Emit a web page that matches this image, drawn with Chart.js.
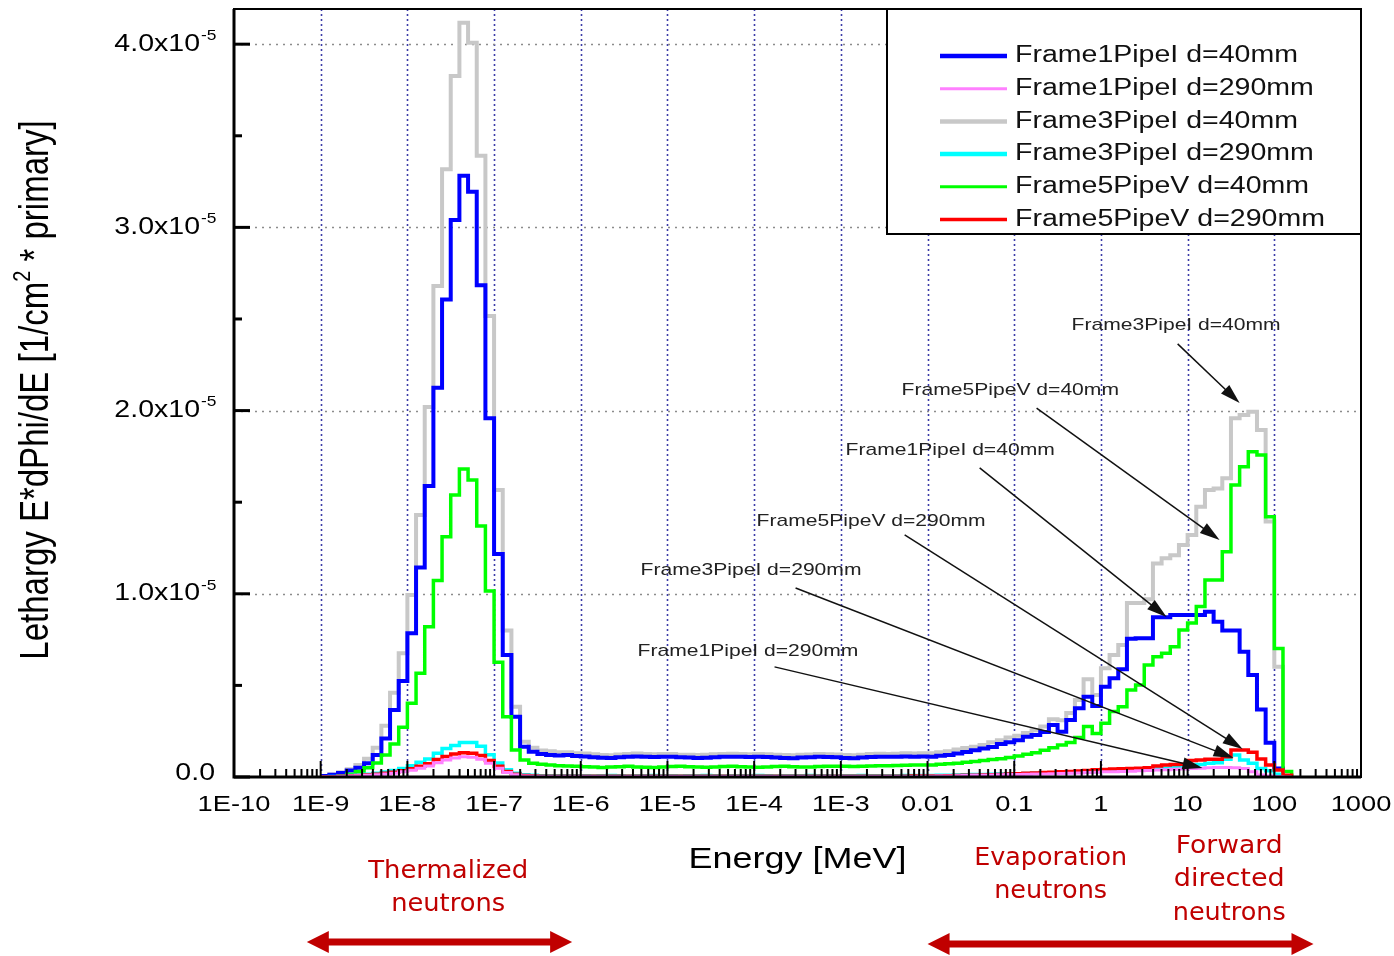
<!DOCTYPE html>
<html>
<head>
<meta charset="utf-8">
<script src="https://cdn.jsdelivr.net/npm/chart.js@4.4.1/dist/chart.umd.min.js"></script>
<style>
  html, body { margin: 0; padding: 0; background: #fff; }
</style>
</head>
<body>
<canvas id="fluxChart" width="1394" height="956"></canvas>
<script>
// energy axis (MeV), decades
const decadeValues = [1e-10, 1e-9, 1e-8, 1e-7, 1e-6, 1e-5, 1e-4, 1e-3, 0.01, 0.1, 1, 10, 100, 1000];
const decadeLabels = ['1E-10', '1E-9', '1E-8', '1E-7', '1E-6', '1E-5', '1E-4', '1E-3', '0.01', '0.1', '1', '10', '100', '1000'];

// histogram bins: 10 per decade, first edge at 1E-9 MeV
const binsPerDecade = 10;
const firstEdgeLog = -9;

// y values in units of 1e-5
const yTicks = [0, 1, 2, 3, 4];
const yTickLabels = ['0.0', '1.0x10', '2.0x10', '3.0x10', '4.0x10'];
const yTickExp = ['', '-5', '-5', '-5', '-5'];

const seriesNames = [
  'Frame1PipeI d=40mm', 'Frame1PipeI d=290mm', 'Frame3PipeI d=40mm',
  'Frame3PipeI d=290mm', 'Frame5PipeV d=40mm', 'Frame5PipeV d=290mm'
];

// one row per decade (1E-9 .. 100), last row: 100..160 MeV
const frame1PipeI_40 = [
  0.005, 0.012, 0.022, 0.035, 0.05, 0.075, 0.12, 0.21, 0.366, 0.524,
  0.784, 1.143, 1.588, 2.125, 2.607, 3.04, 3.282, 3.195, 2.684, 1.958,
  1.217, 0.666, 0.329, 0.165, 0.138, 0.125, 0.12, 0.118, 0.12, 0.115,
  0.112, 0.108, 0.105, 0.104, 0.108, 0.110, 0.112, 0.110, 0.109, 0.111,
  0.110, 0.108, 0.106, 0.104, 0.105, 0.108, 0.110, 0.111, 0.110, 0.109,
  0.111, 0.109, 0.107, 0.104, 0.103, 0.106, 0.108, 0.110, 0.109, 0.108,
  0.104, 0.102, 0.106, 0.109, 0.111, 0.110, 0.111, 0.112, 0.111, 0.112,
  0.111, 0.116, 0.12, 0.128, 0.137, 0.146, 0.155, 0.164, 0.18, 0.19,
  0.20, 0.22, 0.229, 0.246, 0.284, 0.247, 0.311, 0.375, 0.438, 0.388,
  0.493, 0.539, 0.588, 0.755, 0.757, 0.757, 0.872, 0.872, 0.884, 0.884,
  0.884, 0.884, 0.902, 0.848, 0.799, 0.799, 0.684, 0.557, 0.369, 0.187,
  0.047, 0
];
const frame1PipeI_290 = [
  0.001, 0.002, 0.003, 0.005, 0.007, 0.009, 0.012, 0.016, 0.021, 0.028,
  0.037, 0.048, 0.06, 0.078, 0.093, 0.104, 0.11, 0.108, 0.097, 0.075,
  0.048, 0.025, 0.012, 0.006, 0.004, 0.003, 0.003, 0.003, 0.003, 0.003,
  0.003, 0.003, 0.003, 0.003, 0.003, 0.003, 0.003, 0.003, 0.003, 0.003,
  0.003, 0.003, 0.003, 0.003, 0.003, 0.003, 0.003, 0.003, 0.003, 0.003,
  0.003, 0.003, 0.003, 0.003, 0.003, 0.003, 0.003, 0.003, 0.003, 0.003,
  0.003, 0.003, 0.003, 0.003, 0.003, 0.003, 0.003, 0.003, 0.003, 0.004,
  0.004, 0.005, 0.006, 0.007, 0.008, 0.009, 0.01, 0.011, 0.012, 0.013,
  0.014, 0.015, 0.016, 0.017, 0.018, 0.019, 0.02, 0.022, 0.024, 0.026,
  0.028, 0.029, 0.03, 0.032, 0.034, 0.036, 0.038, 0.04, 0.042, 0.044,
  0.046, 0.048, 0.05, 0.052, 0.052, 0.05, 0.047, 0.029, 0.011, 0.005,
  0.002, 0
];
const frame3PipeI_40 = [
  0.006, 0.014, 0.026, 0.042, 0.065, 0.1, 0.16, 0.28, 0.46, 0.675,
  0.993, 1.43, 2.02, 2.68, 3.317, 3.826, 4.117, 4.008, 3.391, 2.516,
  1.567, 0.80, 0.384, 0.193, 0.16, 0.145, 0.14, 0.135, 0.135, 0.13,
  0.128, 0.124, 0.12, 0.119, 0.123, 0.126, 0.128, 0.126, 0.124, 0.126,
  0.125, 0.122, 0.121, 0.12, 0.121, 0.124, 0.126, 0.127, 0.125, 0.124,
  0.126, 0.124, 0.122, 0.12, 0.119, 0.121, 0.123, 0.125, 0.124, 0.123,
  0.12, 0.119, 0.122, 0.125, 0.127, 0.126, 0.127, 0.129, 0.128, 0.13,
  0.13, 0.135, 0.14, 0.15, 0.158, 0.165, 0.175, 0.19, 0.20, 0.215,
  0.225, 0.24, 0.255, 0.275, 0.315, 0.31, 0.35, 0.42, 0.533, 0.448,
  0.593, 0.666, 0.72, 0.95, 0.95, 0.97, 1.166, 1.194, 1.21, 1.266,
  1.321, 1.475, 1.567, 1.575, 1.63, 1.958, 1.976, 1.994, 1.894, 1.394,
  0.602, 0
];
const frame3PipeI_290 = [
  0.002, 0.003, 0.005, 0.008, 0.011, 0.015, 0.02, 0.027, 0.036, 0.047,
  0.062, 0.08, 0.098, 0.13, 0.155, 0.172, 0.188, 0.188, 0.168, 0.122,
  0.077, 0.04, 0.02, 0.012, 0.009, 0.007, 0.007, 0.007, 0.007, 0.007,
  0.007, 0.006, 0.007, 0.008, 0.007, 0.006, 0.007, 0.007, 0.008, 0.007,
  0.007, 0.006, 0.007, 0.007, 0.008, 0.007, 0.006, 0.007, 0.007, 0.007,
  0.008, 0.007, 0.006, 0.007, 0.007, 0.007, 0.008, 0.007, 0.007, 0.006,
  0.007, 0.007, 0.008, 0.007, 0.007, 0.007, 0.007, 0.008, 0.008, 0.008,
  0.008, 0.009, 0.01, 0.011, 0.012, 0.013, 0.014, 0.015, 0.016, 0.017,
  0.018, 0.019, 0.02, 0.021, 0.022, 0.023, 0.025, 0.027, 0.029, 0.03,
  0.032, 0.034, 0.036, 0.038, 0.04, 0.042, 0.045, 0.048, 0.05, 0.055,
  0.06, 0.068, 0.075, 0.078, 0.097, 0.12, 0.093, 0.075, 0.047, 0.034,
  0.015, 0.005
];
const frame5PipeV_40 = [
  0, 0, 0.005, 0.015, 0.03, 0.05, 0.076, 0.12, 0.18, 0.271,
  0.402, 0.566, 0.82, 1.072, 1.312, 1.539, 1.681, 1.621, 1.37, 1.015,
  0.626, 0.329, 0.147, 0.093, 0.075, 0.07, 0.065, 0.062, 0.06, 0.058,
  0.056, 0.055, 0.052, 0.054, 0.056, 0.058, 0.055, 0.053, 0.052, 0.055,
  0.057, 0.058, 0.056, 0.054, 0.053, 0.055, 0.057, 0.058, 0.056, 0.054,
  0.053, 0.055, 0.057, 0.058, 0.056, 0.054, 0.055, 0.057, 0.058, 0.059,
  0.058, 0.057, 0.058, 0.060, 0.061, 0.062, 0.063, 0.064, 0.065, 0.066,
  0.066, 0.07, 0.072, 0.075, 0.08, 0.084, 0.09, 0.095, 0.10, 0.106,
  0.115, 0.124, 0.133, 0.146, 0.16, 0.175, 0.188, 0.215, 0.275, 0.238,
  0.293, 0.357, 0.384, 0.475, 0.502, 0.611, 0.657, 0.675, 0.711, 0.802,
  0.84, 0.93, 1.075, 1.075, 1.23, 1.594, 1.694, 1.776, 1.758, 1.421,
  0.702, 0.03
];
const frame5PipeV_290 = [
  0.001, 0.002, 0.004, 0.006, 0.008, 0.011, 0.015, 0.02, 0.026, 0.034,
  0.045, 0.058, 0.072, 0.095, 0.112, 0.125, 0.133, 0.13, 0.118, 0.09,
  0.058, 0.03, 0.015, 0.008, 0.005, 0.004, 0.004, 0.004, 0.004, 0.004,
  0.004, 0.004, 0.004, 0.004, 0.004, 0.004, 0.004, 0.004, 0.004, 0.004,
  0.004, 0.004, 0.004, 0.004, 0.004, 0.004, 0.004, 0.004, 0.004, 0.004,
  0.004, 0.004, 0.004, 0.004, 0.004, 0.004, 0.004, 0.004, 0.004, 0.004,
  0.004, 0.004, 0.004, 0.004, 0.004, 0.004, 0.004, 0.004, 0.005, 0.005,
  0.005, 0.006, 0.007, 0.008, 0.009, 0.01, 0.011, 0.012, 0.014, 0.016,
  0.018, 0.02, 0.022, 0.024, 0.026, 0.028, 0.03, 0.033, 0.036, 0.039,
  0.041, 0.043, 0.045, 0.047, 0.048, 0.05, 0.06, 0.065, 0.068, 0.07,
  0.09, 0.093, 0.097, 0.097, 0.111, 0.147, 0.147, 0.135, 0.098, 0.065,
  0.038, 0.01
];

const seriesValues = [frame1PipeI_40, frame1PipeI_290, frame3PipeI_40, frame3PipeI_290, frame5PipeV_40, frame5PipeV_290];
const seriesColors = ['#0000ff', '#ff80ff', '#c8c8c8', '#00ffff', '#00ff00', '#ff0000'];
const seriesWidths = [4, 3, 4, 3.5, 3.5, 3.5];
const legendWidths = [4.5, 3, 4.5, 4.5, 3, 3.5];
const drawOrder = [5, 1, 6, 3, 4, 2];

// arrow annotations, positions as [log10(E/MeV), value]
const notes = [
  { text: 'Frame3PipeI d=40mm',  at: [-0.339, 2.467], from: [0.885, 2.364],  to: [1.600, 2.041] },
  { text: 'Frame5PipeV d=40mm',  at: [-2.299, 2.112], from: [-0.742, 2.014], to: [1.369, 1.294] },
  { text: 'Frame1PipeI d=40mm',  at: [-2.945, 1.785], from: [-1.399, 1.687], to: [0.758, 0.873] },
  { text: 'Frame5PipeV d=290mm', at: [-3.972, 1.397], from: [-2.264, 1.321], to: [1.634, 0.153] },
  { text: 'Frame3PipeI d=290mm', at: [-5.310, 1.130], from: [-3.522, 1.032], to: [1.530, 0.104] },
  { text: 'Frame1PipeI d=290mm', at: [-5.345, 0.688], from: [-3.765, 0.601], to: [1.172, 0.049] }
];

// energy regions under the axis
const regions = [
  { lines: ['Thermalized', 'neutrons'], widths: [160, 114], center: -7.53, top: 871, arrow: [-9.16, -6.10], arrowY: 942 },
  { lines: ['Evaporation', 'neutrons'], widths: [153, 113], center: -0.58, top: 858, arrow: null },
  { lines: ['Forward', 'directed', 'neutrons'], widths: [107, 111, 113], center: 1.48, top: 846, arrow: [-2.0, 2.452], arrowY: 944 }
];

const SX = 1.24;
const FONT = '"Liberation Sans", Arial, sans-serif';

function binEdge(i) {
  return Math.pow(10, firstEdgeLog + i / binsPerDecade);
}

const datasets = seriesValues.map((vals, k) => {
  const pts = vals.map((v, i) => ({ x: binEdge(i), y: v }));
  pts.push({ x: binEdge(vals.length), y: 0 });
  return {
    label: seriesNames[k],
    data: pts,
    borderColor: seriesColors[k],
    borderWidth: seriesWidths[k],
    stepped: true,
    pointRadius: 0,
    fill: false,
    order: drawOrder[k]
  };
});

function text(ctx, s, x, y, font, align, color, sx) {
  sx = sx || SX;
  ctx.save();
  ctx.font = font;
  ctx.fillStyle = color || '#000';
  ctx.textBaseline = 'middle';
  ctx.textAlign = 'left';
  const w = ctx.measureText(s).width * sx;
  const x0 = align === 'center' ? x - w / 2 : align === 'right' ? x - w : x;
  ctx.translate(x0, y);
  ctx.scale(sx, 1);
  ctx.fillText(s, 0, 0);
  ctx.restore();
  return w;
}

function arrow(ctx, x1, y1, x2, y2) {
  const a = Math.atan2(y2 - y1, x2 - x1);
  const len = 20, hw = 6;
  ctx.save();
  ctx.strokeStyle = '#111';
  ctx.fillStyle = '#111';
  ctx.lineWidth = 1.5;
  ctx.beginPath();
  ctx.moveTo(x1, y1);
  ctx.lineTo(x2 - Math.cos(a) * len * 0.8, y2 - Math.sin(a) * len * 0.8);
  ctx.stroke();
  ctx.beginPath();
  ctx.moveTo(x2, y2);
  ctx.lineTo(x2 - Math.cos(a) * len - Math.sin(a) * hw, y2 - Math.sin(a) * len + Math.cos(a) * hw);
  ctx.lineTo(x2 - Math.cos(a) * len + Math.sin(a) * hw, y2 - Math.sin(a) * len - Math.cos(a) * hw);
  ctx.closePath();
  ctx.fill();
  ctx.restore();
}

function doubleArrow(ctx, xa, xb, y) {
  const head = 22, hh = 11, th = 7;
  ctx.save();
  ctx.fillStyle = '#c00000';
  ctx.fillRect(xa + head - 2, y - th / 2, xb - xa - 2 * head + 4, th);
  ctx.beginPath();
  ctx.moveTo(xa, y);
  ctx.lineTo(xa + head, y - hh);
  ctx.lineTo(xa + head, y + hh);
  ctx.closePath();
  ctx.fill();
  ctx.beginPath();
  ctx.moveTo(xb, y);
  ctx.lineTo(xb - head, y - hh);
  ctx.lineTo(xb - head, y + hh);
  ctx.closePath();
  ctx.fill();
  ctx.restore();
}

const gridPlugin = {
  id: 'gridPlugin',
  beforeDatasetsDraw(chart) {
    const { ctx, chartArea: a, scales: { x, y } } = chart;
    ctx.save();
    ctx.lineWidth = 1.6;
    ctx.strokeStyle = '#3c3ca8';
    ctx.setLineDash([2, 3]);
    decadeValues.slice(1, -1).forEach(v => {
      const px = Math.round(x.getPixelForValue(v)) + 0.5;
      ctx.beginPath();
      ctx.moveTo(px, a.top);
      ctx.lineTo(px, a.bottom);
      ctx.stroke();
    });
    ctx.strokeStyle = '#8c8c8c';
    ctx.setLineDash([2, 5]);
    yTicks.slice(1).forEach(v => {
      const py = Math.round(y.getPixelForValue(v)) + 0.5;
      ctx.beginPath();
      ctx.moveTo(a.left, py);
      ctx.lineTo(a.right, py);
      ctx.stroke();
    });
    ctx.restore();
  }
};

const decorPlugin = {
  id: 'decorPlugin',
  afterDraw(chart) {
    const { ctx, chartArea: a, scales: { x, y } } = chart;
    ctx.save();

    // frame
    ctx.strokeStyle = '#000';
    ctx.lineWidth = 2;
    ctx.strokeRect(a.left, a.top, a.right - a.left, a.bottom - a.top);
    ctx.lineWidth = 3;
    ctx.beginPath();
    ctx.moveTo(a.left, a.top);
    ctx.lineTo(a.left, a.bottom);
    ctx.lineTo(a.right, a.bottom);
    ctx.stroke();

    // y ticks
    yTicks.forEach((v, i) => {
      const py = y.getPixelForValue(v);
      ctx.lineWidth = 3;
      ctx.beginPath();
      ctx.moveTo(a.left, py);
      ctx.lineTo(a.left + 16, py);
      ctx.stroke();
      const mv = v + 0.5;
      if (mv < y.max) {
        const pm = y.getPixelForValue(mv);
        ctx.beginPath();
        ctx.moveTo(a.left, pm);
        ctx.lineTo(a.left + 8, pm);
        ctx.stroke();
      }
      if (yTickExp[i]) {
        text(ctx, yTickLabels[i], 200, py, '23px ' + FONT, 'right');
        text(ctx, yTickExp[i], 201, py - 8, '14px ' + FONT, 'left');
      } else {
        text(ctx, yTickLabels[i], 215, py - 3, '23px ' + FONT, 'right');
      }
    });

    // x ticks
    ctx.lineWidth = 2;
    decadeValues.forEach((v, i) => {
      const px = x.getPixelForValue(v);
      ctx.beginPath();
      ctx.moveTo(px, a.bottom);
      ctx.lineTo(px, a.bottom - 16);
      ctx.stroke();
      if (i < decadeValues.length - 1) {
        for (let m = 2; m <= 9; m++) {
          const pm = x.getPixelForValue(v * m);
          ctx.beginPath();
          ctx.moveTo(pm, a.bottom);
          ctx.lineTo(pm, a.bottom - 8);
          ctx.stroke();
        }
      }
      text(ctx, decadeLabels[i], px, 805, '22px ' + FONT, 'center');
    });

    // axis titles
    text(ctx, 'Energy [MeV]', (a.left + a.right) / 2 + 0, 860, '29px ' + FONT, 'center');

    ctx.save();
    ctx.translate(37, 390);
    ctx.scale(SX, 1);
    ctx.rotate(-Math.PI / 2);
    ctx.fillStyle = '#000';
    ctx.textBaseline = 'middle';
    ctx.font = '33px ' + FONT;
    const pa = 'Lethargy E*dPhi/dE [1/cm', pb = ' * primary]';
    const wa = ctx.measureText(pa).width, wb = ctx.measureText(pb).width;
    ctx.font = '20px ' + FONT;
    const ws = ctx.measureText('2').width;
    const start = -(wa + ws + wb) / 2;
    ctx.font = '33px ' + FONT;
    ctx.fillText(pa, start, 0);
    ctx.fillText(pb, start + wa + ws, 0);
    ctx.font = '20px ' + FONT;
    ctx.fillText('2', start + wa, -11);
    ctx.restore();

    // legend
    const lw = 474, lh = 225;
    const lx = a.right - lw, ly = a.top;
    ctx.fillStyle = '#fff';
    ctx.fillRect(lx, ly, lw, lh);
    ctx.lineWidth = 2;
    ctx.strokeStyle = '#000';
    ctx.strokeRect(lx, ly, lw, lh);
    seriesNames.forEach((name, k) => {
      const ry = ly + 47 + k * 32.7;
      ctx.strokeStyle = seriesColors[k];
      ctx.lineWidth = legendWidths[k];
      ctx.beginPath();
      ctx.moveTo(lx + 53, ry);
      ctx.lineTo(lx + 120, ry);
      ctx.stroke();
      text(ctx, name, lx + 128, ry, '23px ' + FONT, 'left', '#111');
    });

    // annotations
    notes.forEach(n => {
      const tx = x.getPixelForValue(Math.pow(10, n.at[0]));
      const ty = y.getPixelForValue(n.at[1]);
      text(ctx, n.text, tx, ty, '17px ' + FONT, 'left', '#222');
      arrow(ctx,
        x.getPixelForValue(Math.pow(10, n.from[0])), y.getPixelForValue(n.from[1]),
        x.getPixelForValue(Math.pow(10, n.to[0])), y.getPixelForValue(n.to[1]));
    });

    // energy regions
    regions.forEach(r => {
      const cx = x.getPixelForValue(Math.pow(10, r.center));
      r.lines.forEach((s, i) => {
        ctx.font = '25px "DejaVu Sans", sans-serif';
        const sx = r.widths[i] / ctx.measureText(s).width;
        text(ctx, s, cx, r.top + i * 33.5, '25px "DejaVu Sans", sans-serif', 'center', '#c00000', sx);
      });
      if (r.arrow) {
        doubleArrow(ctx,
          x.getPixelForValue(Math.pow(10, r.arrow[0])),
          x.getPixelForValue(Math.pow(10, r.arrow[1])), r.arrowY);
      }
    });

    ctx.restore();
  }
};

const ctx = document.getElementById('fluxChart').getContext('2d');
new Chart(ctx, {
  type: 'line',
  data: { datasets },
  options: {
    responsive: false,
    devicePixelRatio: 1,
    animation: false,
    layout: { padding: { left: 234, right: 33, top: 9, bottom: 179 } },
    plugins: { legend: { display: false }, tooltip: { enabled: false } },
    scales: {
      x: { type: 'logarithmic', min: 1e-10, max: 1000, display: false },
      y: { type: 'linear', min: 0, max: 4.192, display: false }
    }
  },
  plugins: [gridPlugin, decorPlugin]
});
</script>
</body>
</html>
